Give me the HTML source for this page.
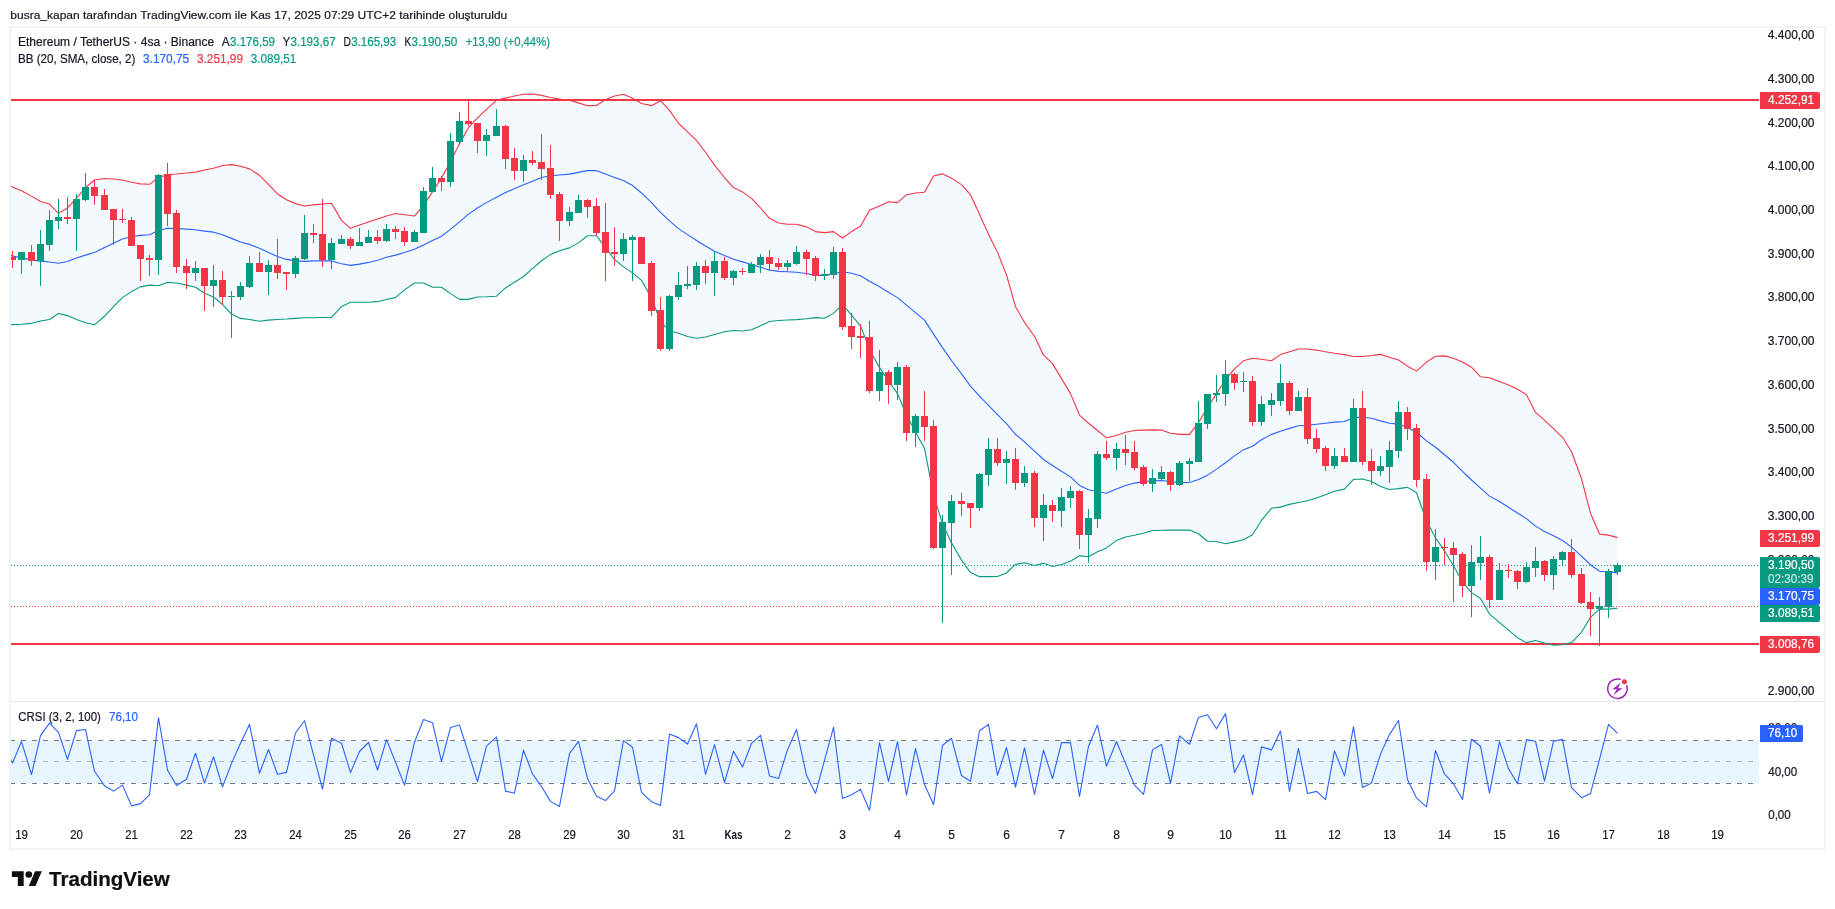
<!DOCTYPE html>
<html lang="tr"><head><meta charset="utf-8"><title>ETHUSDT 4sa - TradingView</title>
<style>html,body{margin:0;padding:0;background:#fff}svg{display:block;will-change:transform}text{font-family:"Liberation Sans",sans-serif}</style></head><body>
<svg width="1835" height="909" viewBox="0 0 1835 909">
<rect width="1835" height="909" fill="#fff"/>
<rect x="10" y="27" width="1815" height="822" fill="#fff" stroke="#f2f3f4" stroke-width="2"/>
<defs><clipPath id="cp"><rect x="11" y="28" width="1749" height="673"/></clipPath><clipPath id="cp2"><rect x="11" y="702" width="1748" height="118"/></clipPath></defs>
<g clip-path="url(#cp)">
<polygon points="10.5,186.04 12.5,186.9 21.5,190.76 31.5,196.12 40.5,201.49 49.5,204.06 58.5,213.28 67.5,207.92 76.5,198.27 85.5,187.54 94.5,180.03 104.5,178.53 113.5,178.96 122.5,180.03 131.5,182.18 140.5,183.89 149.5,184.32 158.5,177.46 167.5,174.67 176.5,174.03 186.5,172.95 195.5,172.1 204.5,169.95 213.5,168.23 222.5,165.45 231.5,164.59 240.5,166.3 249.5,168.88 259.5,175.31 268.5,184.32 277.5,193.98 286.5,199.77 295.5,203.63 304.5,205.99 313.5,204.92 322.5,204.06 331.5,203.2 341.5,220.36 350.5,228.3 359.5,225.08 368.5,222.08 377.5,219.08 386.5,216.07 395.5,213.5 404.5,214.79 414.5,216.07 423.5,205.35 432.5,191.83 441.5,177.89 450.5,161.8 459.5,143.63 468.5,127.54 477.5,117.89 486.5,109.31 496.5,100.3 505.5,98.15 514.5,96.01 523.5,94.29 532.5,94.08 541.5,95.36 550.5,97.51 559.5,99.01 569.5,100.3 578.5,102.87 587.5,105.66 596.5,105.45 605.5,99.65 614.5,96.01 623.5,94.29 632.5,98.15 641.5,103.51 651.5,105.66 660.5,100.73 669.5,110.38 678.5,123.25 687.5,131.83 696.5,140.41 705.5,152.21 714.5,165.08 724.5,177.53 733.5,187.61 742.5,191.9 751.5,198.33 760.5,207.99 769.5,218.28 778.5,223 787.5,224.29 796.5,224.29 806.5,226.87 815.5,231.59 824.5,232.66 833.5,231.59 842.5,238.02 851.5,231.59 860.5,226.21 869.5,210.33 879.5,206.04 888.5,201.75 897.5,202.61 906.5,194.67 915.5,192.95 924.5,192.31 933.5,176.01 942.5,173.86 951.5,178.15 961.5,184.59 970.5,194.67 979.5,214.19 988.5,234.14 997.5,252.38 1006.5,274.9 1015.5,306.65 1024.5,322.31 1034.5,336.26 1043.5,354.92 1052.5,363.6 1061.5,378.61 1070.5,393.63 1079.5,415.08 1088.5,423.24 1097.5,430.53 1106.5,437.82 1116.5,435.46 1125.5,432.24 1134.5,430.53 1143.5,430.1 1152.5,429.89 1161.5,430.1 1170.5,433.32 1179.5,434.39 1189.5,434.39 1198.5,422.59 1207.5,407.57 1216.5,393.63 1225.5,379.69 1234.5,368.96 1243.5,360.81 1252.5,358.23 1261.5,359.31 1271.5,360.81 1280.5,354.59 1289.5,351.8 1298.5,349.01 1307.5,349.01 1316.5,350.08 1325.5,351.8 1334.5,353.3 1344.5,354.59 1353.5,356.52 1362.5,356.52 1371.5,355.45 1380.5,354.37 1389.5,357.16 1398.5,359.95 1407.5,366.17 1416.5,371.11 1426.5,362.1 1435.5,356.3 1444.5,355.87 1453.5,358.23 1462.5,362.1 1471.5,367.24 1480.5,376.69 1489.5,377.73 1499.5,381.5 1508.5,385.05 1517.5,389.23 1526.5,394.67 1535.5,412.43 1544.5,420.17 1553.5,428.53 1562.5,437.31 1571.5,451.52 1581.5,478.7 1590.5,513.19 1599.5,534.09 1608.5,535.13 1617.5,537.64 1617.5,608.3 1608.5,609.16 1599.5,609.16 1590.5,617.31 1581.5,632.33 1571.5,642.63 1562.5,644.77 1553.5,645.2 1544.5,643.05 1535.5,640.48 1526.5,642.63 1517.5,637.69 1508.5,630.18 1499.5,622.67 1489.5,614.09 1480.5,598.43 1471.5,592.64 1462.5,581.92 1453.5,565.83 1444.5,550.81 1435.5,537.94 1426.5,520.78 1416.5,492.74 1407.5,487.38 1398.5,488.66 1389.5,489.52 1380.5,486.52 1371.5,481.59 1362.5,479.01 1353.5,479.44 1344.5,489.09 1334.5,491.24 1325.5,494.7 1316.5,497.92 1307.5,500.71 1298.5,502.43 1289.5,504.36 1280.5,507.15 1271.5,508.22 1261.5,520.45 1252.5,534.82 1243.5,539.75 1234.5,541.9 1225.5,543.83 1216.5,541.47 1207.5,541.25 1198.5,533.75 1189.5,530.1 1179.5,530.1 1170.5,530.1 1161.5,530.31 1152.5,530.53 1143.5,533.32 1134.5,535.25 1125.5,536.96 1116.5,540.4 1106.5,547.91 1097.5,551.77 1088.5,556.7 1079.5,555.84 1070.5,561.21 1061.5,564.42 1052.5,566.57 1043.5,563.35 1034.5,565.5 1024.5,562.71 1015.5,564.42 1006.5,573 997.5,576.44 988.5,576.65 979.5,576.65 970.5,572.58 961.5,560.13 951.5,542.97 942.5,523.66 933.5,494.92 924.5,448.33 915.5,432.24 906.5,415.08 897.5,393.63 888.5,380.76 879.5,367.66 869.5,349.42 860.5,325.83 851.5,315.1 842.5,304.37 833.5,313.38 824.5,318.32 815.5,317.67 806.5,318.75 796.5,319.6 787.5,320.03 778.5,320.46 769.5,321.54 760.5,325.83 751.5,329.69 742.5,330.97 733.5,330.55 724.5,331.83 714.5,334.41 705.5,336.98 696.5,338.27 687.5,336.55 678.5,333.33 669.5,330.83 660.5,321.53 651.5,297.93 641.5,280.34 632.5,272.91 623.5,266.9 614.5,259.32 605.5,247.88 596.5,235.72 587.5,235.72 578.5,242.87 569.5,247.88 559.5,250.74 550.5,254.6 541.5,260.75 532.5,268.62 523.5,276.48 514.5,282.2 505.5,287.92 496.5,296.22 486.5,296.79 477.5,296.93 468.5,299.36 459.5,299.36 450.5,293.64 441.5,287.21 432.5,287.29 423.5,283 414.5,283 404.5,289.87 395.5,297.59 386.5,299.52 377.5,301.67 368.5,302.31 359.5,302.31 350.5,302.31 341.5,306.6 331.5,317.33 322.5,317.54 313.5,317.76 304.5,317.76 295.5,318.4 286.5,319.04 277.5,319.47 268.5,320.12 259.5,321.19 249.5,319.47 240.5,318.4 231.5,314.11 222.5,304.46 213.5,296.95 204.5,293.3 195.5,287.29 186.5,285.15 176.5,283 167.5,282.36 158.5,285.79 149.5,285.15 140.5,286.87 131.5,291.59 122.5,297.59 113.5,306.6 104.5,316.26 94.5,324.84 85.5,322.69 76.5,319.47 67.5,315.61 58.5,313.47 49.5,319.47 40.5,320.98 31.5,323.33 21.5,324.19 12.5,324.62 10.5,324.84" fill="#f4f9fe"/>
<rect x="11" y="99" width="1748" height="2" fill="#f23645"/>
<rect x="11" y="643" width="1748" height="2" fill="#f23645"/>
<line x1="11" y1="565.5" x2="1758" y2="565.5" stroke="#089981" stroke-width="1" stroke-dasharray="1 2"/>
<line x1="11" y1="606.5" x2="1758" y2="606.5" stroke="#f23645" stroke-width="1" stroke-dasharray="1 2"/>
<polyline points="10.5,255.55 12.5,255.97 21.5,257.91 31.5,259.84 40.5,261.12 49.5,261.98 58.5,263.27 67.5,261.55 76.5,257.91 85.5,255.12 94.5,252.54 104.5,247.61 113.5,243.32 122.5,239.03 131.5,236.45 140.5,235.38 149.5,234.74 158.5,230.45 167.5,228.3 176.5,228.52 186.5,229.16 195.5,229.8 204.5,231.09 213.5,232.16 222.5,234.74 231.5,238.38 240.5,242.03 249.5,244.39 259.5,248.25 268.5,252.54 277.5,256.4 286.5,259.41 295.5,260.91 304.5,261.34 313.5,260.91 322.5,260.91 331.5,260.91 341.5,263.7 350.5,265.41 359.5,264.13 368.5,262.41 377.5,260.26 386.5,257.26 395.5,255.12 404.5,252.54 414.5,249.32 423.5,245.03 432.5,240.53 441.5,236.24 450.5,229.37 459.5,221.87 468.5,214.14 477.5,207.99 486.5,202.62 496.5,197.26 505.5,192.54 514.5,188.68 523.5,184.82 532.5,181.17 541.5,177.53 550.5,175.81 559.5,174.95 569.5,174.09 578.5,172.38 587.5,170.66 596.5,170.66 605.5,174.09 614.5,177.53 623.5,180.53 632.5,185.46 641.5,192.97 651.5,202.62 660.5,212.28 669.5,220.86 678.5,228.65 687.5,234.65 696.5,240.45 705.5,246.02 714.5,251.17 724.5,255.46 733.5,259.32 742.5,261.9 751.5,264.47 760.5,267.26 769.5,270.05 778.5,271.34 787.5,271.77 796.5,272.2 806.5,273.48 815.5,275.41 824.5,275.41 833.5,273.91 842.5,271.77 851.5,273.27 860.5,275.84 869.5,281.21 879.5,286.78 888.5,292.28 897.5,297.64 906.5,305.15 915.5,312.66 924.5,320.17 933.5,334.11 942.5,347.63 951.5,360.5 961.5,373.89 970.5,386.12 979.5,396.21 988.5,405.43 997.5,414.65 1006.5,423.66 1015.5,434.39 1024.5,441.9 1034.5,451.12 1043.5,459.49 1052.5,465.5 1061.5,471.29 1070.5,476.87 1079.5,485.45 1088.5,489.74 1097.5,491.45 1106.5,493.17 1116.5,489.09 1125.5,485.45 1134.5,483.09 1143.5,481.59 1152.5,480.73 1161.5,480.51 1170.5,481.59 1179.5,482.44 1189.5,482.44 1198.5,479.44 1207.5,475.15 1216.5,469.14 1225.5,462.71 1234.5,455.84 1243.5,449.84 1252.5,446.19 1261.5,439.75 1271.5,434.39 1280.5,431.17 1289.5,428.38 1298.5,425.81 1307.5,425.38 1316.5,424.31 1325.5,423.24 1334.5,422.16 1344.5,421.52 1353.5,417.66 1362.5,417.23 1371.5,418.3 1380.5,420.88 1389.5,423.24 1398.5,424.09 1407.5,427.53 1416.5,432.24 1426.5,440.83 1435.5,447.26 1444.5,454.77 1453.5,462.28 1462.5,471.44 1471.5,480.02 1480.5,488.17 1489.5,496.11 1499.5,501.47 1508.5,507.26 1517.5,513.05 1526.5,518.63 1535.5,526.14 1544.5,531.5 1553.5,535.79 1562.5,540.51 1571.5,547.16 1581.5,556.17 1590.5,564.75 1599.5,571.19 1608.5,571.62 1617.5,572.91" fill="none" stroke="#2962ff" stroke-width="1.1" stroke-linejoin="round"/>
<polyline points="10.5,186.04 12.5,186.9 21.5,190.76 31.5,196.12 40.5,201.49 49.5,204.06 58.5,213.28 67.5,207.92 76.5,198.27 85.5,187.54 94.5,180.03 104.5,178.53 113.5,178.96 122.5,180.03 131.5,182.18 140.5,183.89 149.5,184.32 158.5,177.46 167.5,174.67 176.5,174.03 186.5,172.95 195.5,172.1 204.5,169.95 213.5,168.23 222.5,165.45 231.5,164.59 240.5,166.3 249.5,168.88 259.5,175.31 268.5,184.32 277.5,193.98 286.5,199.77 295.5,203.63 304.5,205.99 313.5,204.92 322.5,204.06 331.5,203.2 341.5,220.36 350.5,228.3 359.5,225.08 368.5,222.08 377.5,219.08 386.5,216.07 395.5,213.5 404.5,214.79 414.5,216.07 423.5,205.35 432.5,191.83 441.5,177.89 450.5,161.8 459.5,143.63 468.5,127.54 477.5,117.89 486.5,109.31 496.5,100.3 505.5,98.15 514.5,96.01 523.5,94.29 532.5,94.08 541.5,95.36 550.5,97.51 559.5,99.01 569.5,100.3 578.5,102.87 587.5,105.66 596.5,105.45 605.5,99.65 614.5,96.01 623.5,94.29 632.5,98.15 641.5,103.51 651.5,105.66 660.5,100.73 669.5,110.38 678.5,123.25 687.5,131.83 696.5,140.41 705.5,152.21 714.5,165.08 724.5,177.53 733.5,187.61 742.5,191.9 751.5,198.33 760.5,207.99 769.5,218.28 778.5,223 787.5,224.29 796.5,224.29 806.5,226.87 815.5,231.59 824.5,232.66 833.5,231.59 842.5,238.02 851.5,231.59 860.5,226.21 869.5,210.33 879.5,206.04 888.5,201.75 897.5,202.61 906.5,194.67 915.5,192.95 924.5,192.31 933.5,176.01 942.5,173.86 951.5,178.15 961.5,184.59 970.5,194.67 979.5,214.19 988.5,234.14 997.5,252.38 1006.5,274.9 1015.5,306.65 1024.5,322.31 1034.5,336.26 1043.5,354.92 1052.5,363.6 1061.5,378.61 1070.5,393.63 1079.5,415.08 1088.5,423.24 1097.5,430.53 1106.5,437.82 1116.5,435.46 1125.5,432.24 1134.5,430.53 1143.5,430.1 1152.5,429.89 1161.5,430.1 1170.5,433.32 1179.5,434.39 1189.5,434.39 1198.5,422.59 1207.5,407.57 1216.5,393.63 1225.5,379.69 1234.5,368.96 1243.5,360.81 1252.5,358.23 1261.5,359.31 1271.5,360.81 1280.5,354.59 1289.5,351.8 1298.5,349.01 1307.5,349.01 1316.5,350.08 1325.5,351.8 1334.5,353.3 1344.5,354.59 1353.5,356.52 1362.5,356.52 1371.5,355.45 1380.5,354.37 1389.5,357.16 1398.5,359.95 1407.5,366.17 1416.5,371.11 1426.5,362.1 1435.5,356.3 1444.5,355.87 1453.5,358.23 1462.5,362.1 1471.5,367.24 1480.5,376.69 1489.5,377.73 1499.5,381.5 1508.5,385.05 1517.5,389.23 1526.5,394.67 1535.5,412.43 1544.5,420.17 1553.5,428.53 1562.5,437.31 1571.5,451.52 1581.5,478.7 1590.5,513.19 1599.5,534.09 1608.5,535.13 1617.5,537.64" fill="none" stroke="#f23645" stroke-width="1.1" stroke-linejoin="round"/>
<polyline points="10.5,324.84 12.5,324.62 21.5,324.19 31.5,323.33 40.5,320.98 49.5,319.47 58.5,313.47 67.5,315.61 76.5,319.47 85.5,322.69 94.5,324.84 104.5,316.26 113.5,306.6 122.5,297.59 131.5,291.59 140.5,286.87 149.5,285.15 158.5,285.79 167.5,282.36 176.5,283 186.5,285.15 195.5,287.29 204.5,293.3 213.5,296.95 222.5,304.46 231.5,314.11 240.5,318.4 249.5,319.47 259.5,321.19 268.5,320.12 277.5,319.47 286.5,319.04 295.5,318.4 304.5,317.76 313.5,317.76 322.5,317.54 331.5,317.33 341.5,306.6 350.5,302.31 359.5,302.31 368.5,302.31 377.5,301.67 386.5,299.52 395.5,297.59 404.5,289.87 414.5,283 423.5,283 432.5,287.29 441.5,287.21 450.5,293.64 459.5,299.36 468.5,299.36 477.5,296.93 486.5,296.79 496.5,296.22 505.5,287.92 514.5,282.2 523.5,276.48 532.5,268.62 541.5,260.75 550.5,254.6 559.5,250.74 569.5,247.88 578.5,242.87 587.5,235.72 596.5,235.72 605.5,247.88 614.5,259.32 623.5,266.9 632.5,272.91 641.5,280.34 651.5,297.93 660.5,321.53 669.5,330.83 678.5,333.33 687.5,336.55 696.5,338.27 705.5,336.98 714.5,334.41 724.5,331.83 733.5,330.55 742.5,330.97 751.5,329.69 760.5,325.83 769.5,321.54 778.5,320.46 787.5,320.03 796.5,319.6 806.5,318.75 815.5,317.67 824.5,318.32 833.5,313.38 842.5,304.37 851.5,315.1 860.5,325.83 869.5,349.42 879.5,367.66 888.5,380.76 897.5,393.63 906.5,415.08 915.5,432.24 924.5,448.33 933.5,494.92 942.5,523.66 951.5,542.97 961.5,560.13 970.5,572.58 979.5,576.65 988.5,576.65 997.5,576.44 1006.5,573 1015.5,564.42 1024.5,562.71 1034.5,565.5 1043.5,563.35 1052.5,566.57 1061.5,564.42 1070.5,561.21 1079.5,555.84 1088.5,556.7 1097.5,551.77 1106.5,547.91 1116.5,540.4 1125.5,536.96 1134.5,535.25 1143.5,533.32 1152.5,530.53 1161.5,530.31 1170.5,530.1 1179.5,530.1 1189.5,530.1 1198.5,533.75 1207.5,541.25 1216.5,541.47 1225.5,543.83 1234.5,541.9 1243.5,539.75 1252.5,534.82 1261.5,520.45 1271.5,508.22 1280.5,507.15 1289.5,504.36 1298.5,502.43 1307.5,500.71 1316.5,497.92 1325.5,494.7 1334.5,491.24 1344.5,489.09 1353.5,479.44 1362.5,479.01 1371.5,481.59 1380.5,486.52 1389.5,489.52 1398.5,488.66 1407.5,487.38 1416.5,492.74 1426.5,520.78 1435.5,537.94 1444.5,550.81 1453.5,565.83 1462.5,581.92 1471.5,592.64 1480.5,598.43 1489.5,614.09 1499.5,622.67 1508.5,630.18 1517.5,637.69 1526.5,642.63 1535.5,640.48 1544.5,643.05 1553.5,645.2 1562.5,644.77 1571.5,642.63 1581.5,632.33 1590.5,617.31 1599.5,609.16 1608.5,609.16 1617.5,608.3" fill="none" stroke="#089981" stroke-width="1.1" stroke-linejoin="round"/>
<g shape-rendering="crispEdges">
<rect x="12" y="251" width="1" height="17" fill="#f23645"/><rect x="9" y="257" width="7" height="3" fill="#f23645"/>
<rect x="21" y="252" width="1" height="22" fill="#089981"/><rect x="18" y="252" width="7" height="8" fill="#089981"/>
<rect x="31" y="245" width="1" height="21" fill="#f23645"/><rect x="28" y="252" width="7" height="9" fill="#f23645"/>
<rect x="40" y="230" width="1" height="56" fill="#089981"/><rect x="37" y="244" width="7" height="17" fill="#089981"/>
<rect x="49" y="210" width="1" height="41" fill="#089981"/><rect x="46" y="220" width="7" height="25" fill="#089981"/>
<rect x="58" y="199" width="1" height="30" fill="#089981"/><rect x="55" y="217" width="7" height="4" fill="#089981"/>
<rect x="67" y="197" width="1" height="27" fill="#f23645"/><rect x="64" y="217" width="7" height="2" fill="#f23645"/>
<rect x="76" y="194" width="1" height="57" fill="#089981"/><rect x="73" y="199" width="7" height="20" fill="#089981"/>
<rect x="85" y="173" width="1" height="28" fill="#089981"/><rect x="82" y="187" width="7" height="13" fill="#089981"/>
<rect x="94" y="180" width="1" height="25" fill="#f23645"/><rect x="91" y="187" width="7" height="9" fill="#f23645"/>
<rect x="104" y="189" width="1" height="21" fill="#f23645"/><rect x="101" y="195" width="7" height="15" fill="#f23645"/>
<rect x="113" y="209" width="1" height="36" fill="#f23645"/><rect x="110" y="209" width="7" height="11" fill="#f23645"/>
<rect x="122" y="209" width="1" height="14" fill="#f23645"/><rect x="119" y="219" width="7" height="1" fill="#f23645"/>
<rect x="131" y="217" width="1" height="29" fill="#f23645"/><rect x="128" y="220" width="7" height="26" fill="#f23645"/>
<rect x="140" y="245" width="1" height="36" fill="#f23645"/><rect x="137" y="245" width="7" height="14" fill="#f23645"/>
<rect x="149" y="255" width="1" height="21" fill="#f23645"/><rect x="146" y="258" width="7" height="2" fill="#f23645"/>
<rect x="158" y="174" width="1" height="101" fill="#089981"/><rect x="155" y="175" width="7" height="85" fill="#089981"/>
<rect x="167" y="163" width="1" height="63" fill="#f23645"/><rect x="164" y="174" width="7" height="40" fill="#f23645"/>
<rect x="176" y="210" width="1" height="63" fill="#f23645"/><rect x="173" y="213" width="7" height="54" fill="#f23645"/>
<rect x="186" y="259" width="1" height="30" fill="#f23645"/><rect x="183" y="266" width="7" height="7" fill="#f23645"/>
<rect x="195" y="261" width="1" height="20" fill="#089981"/><rect x="192" y="268" width="7" height="5" fill="#089981"/>
<rect x="204" y="268" width="1" height="43" fill="#f23645"/><rect x="201" y="268" width="7" height="18" fill="#f23645"/>
<rect x="213" y="265" width="1" height="42" fill="#089981"/><rect x="210" y="280" width="7" height="6" fill="#089981"/>
<rect x="222" y="271" width="1" height="34" fill="#f23645"/><rect x="219" y="280" width="7" height="17" fill="#f23645"/>
<rect x="231" y="291" width="1" height="47" fill="#089981"/><rect x="228" y="296" width="7" height="1" fill="#089981"/>
<rect x="240" y="282" width="1" height="18" fill="#089981"/><rect x="237" y="286" width="7" height="11" fill="#089981"/>
<rect x="249" y="256" width="1" height="32" fill="#089981"/><rect x="246" y="263" width="7" height="24" fill="#089981"/>
<rect x="259" y="252" width="1" height="20" fill="#f23645"/><rect x="256" y="263" width="7" height="9" fill="#f23645"/>
<rect x="268" y="260" width="1" height="35" fill="#089981"/><rect x="265" y="265" width="7" height="7" fill="#089981"/>
<rect x="277" y="239" width="1" height="40" fill="#f23645"/><rect x="274" y="265" width="7" height="8" fill="#f23645"/>
<rect x="286" y="272" width="1" height="18" fill="#f23645"/><rect x="283" y="272" width="7" height="2" fill="#f23645"/>
<rect x="295" y="256" width="1" height="22" fill="#089981"/><rect x="292" y="258" width="7" height="16" fill="#089981"/>
<rect x="304" y="215" width="1" height="45" fill="#089981"/><rect x="301" y="233" width="7" height="26" fill="#089981"/>
<rect x="313" y="224" width="1" height="19" fill="#f23645"/><rect x="310" y="233" width="7" height="2" fill="#f23645"/>
<rect x="322" y="199" width="1" height="68" fill="#f23645"/><rect x="319" y="234" width="7" height="26" fill="#f23645"/>
<rect x="331" y="238" width="1" height="31" fill="#089981"/><rect x="328" y="243" width="7" height="17" fill="#089981"/>
<rect x="341" y="235" width="1" height="9" fill="#089981"/><rect x="338" y="239" width="7" height="5" fill="#089981"/>
<rect x="350" y="237" width="1" height="12" fill="#f23645"/><rect x="347" y="239" width="7" height="7" fill="#f23645"/>
<rect x="359" y="228" width="1" height="18" fill="#089981"/><rect x="356" y="242" width="7" height="4" fill="#089981"/>
<rect x="368" y="230" width="1" height="13" fill="#089981"/><rect x="365" y="237" width="7" height="6" fill="#089981"/>
<rect x="377" y="230" width="1" height="14" fill="#f23645"/><rect x="374" y="237" width="7" height="4" fill="#f23645"/>
<rect x="386" y="224" width="1" height="18" fill="#089981"/><rect x="383" y="229" width="7" height="12" fill="#089981"/>
<rect x="395" y="226" width="1" height="13" fill="#f23645"/><rect x="392" y="229" width="7" height="3" fill="#f23645"/>
<rect x="404" y="227" width="1" height="19" fill="#f23645"/><rect x="401" y="231" width="7" height="11" fill="#f23645"/>
<rect x="414" y="230" width="1" height="12" fill="#089981"/><rect x="411" y="232" width="7" height="10" fill="#089981"/>
<rect x="423" y="187" width="1" height="46" fill="#089981"/><rect x="420" y="191" width="7" height="42" fill="#089981"/>
<rect x="432" y="167" width="1" height="25" fill="#089981"/><rect x="429" y="178" width="7" height="14" fill="#089981"/>
<rect x="441" y="176" width="1" height="15" fill="#f23645"/><rect x="438" y="178" width="7" height="4" fill="#f23645"/>
<rect x="450" y="133" width="1" height="54" fill="#089981"/><rect x="447" y="141" width="7" height="41" fill="#089981"/>
<rect x="459" y="112" width="1" height="33" fill="#089981"/><rect x="456" y="121" width="7" height="21" fill="#089981"/>
<rect x="468" y="100" width="1" height="26" fill="#f23645"/><rect x="465" y="121" width="7" height="3" fill="#f23645"/>
<rect x="477" y="123" width="1" height="30" fill="#f23645"/><rect x="474" y="123" width="7" height="18" fill="#f23645"/>
<rect x="486" y="129" width="1" height="27" fill="#089981"/><rect x="483" y="135" width="7" height="6" fill="#089981"/>
<rect x="496" y="109" width="1" height="27" fill="#089981"/><rect x="493" y="126" width="7" height="10" fill="#089981"/>
<rect x="505" y="125" width="1" height="44" fill="#f23645"/><rect x="502" y="126" width="7" height="33" fill="#f23645"/>
<rect x="514" y="148" width="1" height="32" fill="#f23645"/><rect x="511" y="158" width="7" height="13" fill="#f23645"/>
<rect x="523" y="155" width="1" height="27" fill="#089981"/><rect x="520" y="160" width="7" height="11" fill="#089981"/>
<rect x="532" y="151" width="1" height="14" fill="#f23645"/><rect x="529" y="160" width="7" height="3" fill="#f23645"/>
<rect x="541" y="134" width="1" height="46" fill="#f23645"/><rect x="538" y="162" width="7" height="7" fill="#f23645"/>
<rect x="550" y="145" width="1" height="54" fill="#f23645"/><rect x="547" y="168" width="7" height="27" fill="#f23645"/>
<rect x="559" y="192" width="1" height="49" fill="#f23645"/><rect x="556" y="194" width="7" height="27" fill="#f23645"/>
<rect x="569" y="207" width="1" height="19" fill="#089981"/><rect x="566" y="212" width="7" height="9" fill="#089981"/>
<rect x="578" y="195" width="1" height="18" fill="#089981"/><rect x="575" y="200" width="7" height="13" fill="#089981"/>
<rect x="587" y="199" width="1" height="19" fill="#f23645"/><rect x="584" y="200" width="7" height="7" fill="#f23645"/>
<rect x="596" y="198" width="1" height="38" fill="#f23645"/><rect x="593" y="206" width="7" height="27" fill="#f23645"/>
<rect x="605" y="203" width="1" height="78" fill="#f23645"/><rect x="602" y="232" width="7" height="21" fill="#f23645"/>
<rect x="614" y="227" width="1" height="39" fill="#f23645"/><rect x="611" y="252" width="7" height="2" fill="#f23645"/>
<rect x="623" y="233" width="1" height="28" fill="#089981"/><rect x="620" y="239" width="7" height="15" fill="#089981"/>
<rect x="632" y="235" width="1" height="46" fill="#089981"/><rect x="629" y="237" width="7" height="3" fill="#089981"/>
<rect x="641" y="237" width="1" height="27" fill="#f23645"/><rect x="638" y="237" width="7" height="27" fill="#f23645"/>
<rect x="651" y="261" width="1" height="55" fill="#f23645"/><rect x="648" y="263" width="7" height="48" fill="#f23645"/>
<rect x="660" y="297" width="1" height="54" fill="#f23645"/><rect x="657" y="310" width="7" height="39" fill="#f23645"/>
<rect x="669" y="295" width="1" height="56" fill="#089981"/><rect x="666" y="296" width="7" height="53" fill="#089981"/>
<rect x="678" y="272" width="1" height="28" fill="#089981"/><rect x="675" y="285" width="7" height="12" fill="#089981"/>
<rect x="687" y="266" width="1" height="23" fill="#089981"/><rect x="684" y="284" width="7" height="2" fill="#089981"/>
<rect x="696" y="262" width="1" height="28" fill="#089981"/><rect x="693" y="266" width="7" height="19" fill="#089981"/>
<rect x="705" y="260" width="1" height="24" fill="#f23645"/><rect x="702" y="266" width="7" height="7" fill="#f23645"/>
<rect x="714" y="252" width="1" height="44" fill="#089981"/><rect x="711" y="261" width="7" height="12" fill="#089981"/>
<rect x="724" y="257" width="1" height="23" fill="#f23645"/><rect x="721" y="261" width="7" height="17" fill="#f23645"/>
<rect x="733" y="270" width="1" height="15" fill="#089981"/><rect x="730" y="271" width="7" height="7" fill="#089981"/>
<rect x="742" y="268" width="1" height="7" fill="#f23645"/><rect x="739" y="271" width="7" height="1" fill="#f23645"/>
<rect x="751" y="262" width="1" height="11" fill="#089981"/><rect x="748" y="264" width="7" height="9" fill="#089981"/>
<rect x="760" y="254" width="1" height="19" fill="#089981"/><rect x="757" y="257" width="7" height="8" fill="#089981"/>
<rect x="769" y="250" width="1" height="21" fill="#f23645"/><rect x="766" y="257" width="7" height="7" fill="#f23645"/>
<rect x="778" y="258" width="1" height="12" fill="#f23645"/><rect x="775" y="263" width="7" height="4" fill="#f23645"/>
<rect x="787" y="260" width="1" height="11" fill="#089981"/><rect x="784" y="263" width="7" height="4" fill="#089981"/>
<rect x="796" y="246" width="1" height="19" fill="#089981"/><rect x="793" y="252" width="7" height="12" fill="#089981"/>
<rect x="806" y="250" width="1" height="25" fill="#f23645"/><rect x="803" y="252" width="7" height="7" fill="#f23645"/>
<rect x="815" y="256" width="1" height="25" fill="#f23645"/><rect x="812" y="258" width="7" height="18" fill="#f23645"/>
<rect x="824" y="269" width="1" height="11" fill="#089981"/><rect x="821" y="274" width="7" height="2" fill="#089981"/>
<rect x="833" y="247" width="1" height="32" fill="#089981"/><rect x="830" y="252" width="7" height="23" fill="#089981"/>
<rect x="842" y="248" width="1" height="82" fill="#f23645"/><rect x="839" y="252" width="7" height="75" fill="#f23645"/>
<rect x="851" y="313" width="1" height="36" fill="#f23645"/><rect x="848" y="326" width="7" height="11" fill="#f23645"/>
<rect x="860" y="324" width="1" height="34" fill="#f23645"/><rect x="857" y="336" width="7" height="2" fill="#f23645"/>
<rect x="869" y="321" width="1" height="72" fill="#f23645"/><rect x="866" y="337" width="7" height="54" fill="#f23645"/>
<rect x="879" y="350" width="1" height="51" fill="#089981"/><rect x="876" y="372" width="7" height="19" fill="#089981"/>
<rect x="888" y="370" width="1" height="34" fill="#f23645"/><rect x="885" y="372" width="7" height="13" fill="#f23645"/>
<rect x="897" y="362" width="1" height="38" fill="#089981"/><rect x="894" y="367" width="7" height="18" fill="#089981"/>
<rect x="906" y="365" width="1" height="76" fill="#f23645"/><rect x="903" y="367" width="7" height="66" fill="#f23645"/>
<rect x="915" y="414" width="1" height="33" fill="#089981"/><rect x="912" y="416" width="7" height="17" fill="#089981"/>
<rect x="924" y="391" width="1" height="50" fill="#f23645"/><rect x="921" y="416" width="7" height="11" fill="#f23645"/>
<rect x="933" y="420" width="1" height="129" fill="#f23645"/><rect x="930" y="426" width="7" height="122" fill="#f23645"/>
<rect x="942" y="515" width="1" height="108" fill="#089981"/><rect x="939" y="522" width="7" height="26" fill="#089981"/>
<rect x="951" y="495" width="1" height="80" fill="#089981"/><rect x="948" y="501" width="7" height="22" fill="#089981"/>
<rect x="961" y="493" width="1" height="23" fill="#f23645"/><rect x="958" y="501" width="7" height="3" fill="#f23645"/>
<rect x="970" y="503" width="1" height="25" fill="#f23645"/><rect x="967" y="503" width="7" height="5" fill="#f23645"/>
<rect x="979" y="473" width="1" height="38" fill="#089981"/><rect x="976" y="474" width="7" height="34" fill="#089981"/>
<rect x="988" y="438" width="1" height="48" fill="#089981"/><rect x="985" y="449" width="7" height="26" fill="#089981"/>
<rect x="997" y="438" width="1" height="28" fill="#f23645"/><rect x="994" y="449" width="7" height="14" fill="#f23645"/>
<rect x="1006" y="451" width="1" height="33" fill="#089981"/><rect x="1003" y="459" width="7" height="4" fill="#089981"/>
<rect x="1015" y="448" width="1" height="42" fill="#f23645"/><rect x="1012" y="459" width="7" height="24" fill="#f23645"/>
<rect x="1024" y="466" width="1" height="21" fill="#089981"/><rect x="1021" y="473" width="7" height="10" fill="#089981"/>
<rect x="1034" y="471" width="1" height="56" fill="#f23645"/><rect x="1031" y="473" width="7" height="45" fill="#f23645"/>
<rect x="1043" y="494" width="1" height="47" fill="#089981"/><rect x="1040" y="505" width="7" height="13" fill="#089981"/>
<rect x="1052" y="500" width="1" height="22" fill="#f23645"/><rect x="1049" y="505" width="7" height="6" fill="#f23645"/>
<rect x="1061" y="488" width="1" height="39" fill="#089981"/><rect x="1058" y="497" width="7" height="14" fill="#089981"/>
<rect x="1070" y="486" width="1" height="22" fill="#089981"/><rect x="1067" y="491" width="7" height="7" fill="#089981"/>
<rect x="1079" y="490" width="1" height="59" fill="#f23645"/><rect x="1076" y="491" width="7" height="44" fill="#f23645"/>
<rect x="1088" y="509" width="1" height="54" fill="#089981"/><rect x="1085" y="518" width="7" height="17" fill="#089981"/>
<rect x="1097" y="451" width="1" height="77" fill="#089981"/><rect x="1094" y="454" width="7" height="65" fill="#089981"/>
<rect x="1106" y="441" width="1" height="19" fill="#f23645"/><rect x="1103" y="454" width="7" height="4" fill="#f23645"/>
<rect x="1116" y="443" width="1" height="27" fill="#089981"/><rect x="1113" y="449" width="7" height="9" fill="#089981"/>
<rect x="1125" y="435" width="1" height="30" fill="#f23645"/><rect x="1122" y="449" width="7" height="4" fill="#f23645"/>
<rect x="1134" y="441" width="1" height="29" fill="#f23645"/><rect x="1131" y="452" width="7" height="16" fill="#f23645"/>
<rect x="1143" y="465" width="1" height="21" fill="#f23645"/><rect x="1140" y="467" width="7" height="17" fill="#f23645"/>
<rect x="1152" y="469" width="1" height="23" fill="#089981"/><rect x="1149" y="478" width="7" height="6" fill="#089981"/>
<rect x="1161" y="466" width="1" height="15" fill="#089981"/><rect x="1158" y="472" width="7" height="7" fill="#089981"/>
<rect x="1170" y="471" width="1" height="20" fill="#f23645"/><rect x="1167" y="472" width="7" height="13" fill="#f23645"/>
<rect x="1179" y="461" width="1" height="25" fill="#089981"/><rect x="1176" y="463" width="7" height="22" fill="#089981"/>
<rect x="1189" y="458" width="1" height="23" fill="#089981"/><rect x="1186" y="461" width="7" height="3" fill="#089981"/>
<rect x="1198" y="401" width="1" height="61" fill="#089981"/><rect x="1195" y="423" width="7" height="39" fill="#089981"/>
<rect x="1207" y="394" width="1" height="35" fill="#089981"/><rect x="1204" y="394" width="7" height="30" fill="#089981"/>
<rect x="1216" y="375" width="1" height="27" fill="#089981"/><rect x="1213" y="393" width="7" height="2" fill="#089981"/>
<rect x="1225" y="360" width="1" height="46" fill="#089981"/><rect x="1222" y="374" width="7" height="20" fill="#089981"/>
<rect x="1234" y="373" width="1" height="17" fill="#f23645"/><rect x="1231" y="374" width="7" height="9" fill="#f23645"/>
<rect x="1243" y="372" width="1" height="20" fill="#089981"/><rect x="1240" y="381" width="7" height="1" fill="#089981"/>
<rect x="1252" y="376" width="1" height="50" fill="#f23645"/><rect x="1249" y="381" width="7" height="41" fill="#f23645"/>
<rect x="1261" y="396" width="1" height="30" fill="#089981"/><rect x="1258" y="404" width="7" height="18" fill="#089981"/>
<rect x="1271" y="393" width="1" height="23" fill="#089981"/><rect x="1268" y="400" width="7" height="5" fill="#089981"/>
<rect x="1280" y="364" width="1" height="42" fill="#089981"/><rect x="1277" y="383" width="7" height="18" fill="#089981"/>
<rect x="1289" y="381" width="1" height="34" fill="#f23645"/><rect x="1286" y="383" width="7" height="28" fill="#f23645"/>
<rect x="1298" y="391" width="1" height="20" fill="#089981"/><rect x="1295" y="397" width="7" height="14" fill="#089981"/>
<rect x="1307" y="388" width="1" height="56" fill="#f23645"/><rect x="1304" y="397" width="7" height="42" fill="#f23645"/>
<rect x="1316" y="429" width="1" height="24" fill="#f23645"/><rect x="1313" y="438" width="7" height="11" fill="#f23645"/>
<rect x="1325" y="446" width="1" height="25" fill="#f23645"/><rect x="1322" y="448" width="7" height="18" fill="#f23645"/>
<rect x="1334" y="448" width="1" height="21" fill="#089981"/><rect x="1331" y="456" width="7" height="10" fill="#089981"/>
<rect x="1344" y="448" width="1" height="14" fill="#f23645"/><rect x="1341" y="456" width="7" height="6" fill="#f23645"/>
<rect x="1353" y="399" width="1" height="63" fill="#089981"/><rect x="1350" y="408" width="7" height="54" fill="#089981"/>
<rect x="1362" y="391" width="1" height="74" fill="#f23645"/><rect x="1359" y="408" width="7" height="54" fill="#f23645"/>
<rect x="1371" y="449" width="1" height="36" fill="#f23645"/><rect x="1368" y="461" width="7" height="10" fill="#f23645"/>
<rect x="1380" y="456" width="1" height="20" fill="#089981"/><rect x="1377" y="466" width="7" height="5" fill="#089981"/>
<rect x="1389" y="441" width="1" height="42" fill="#089981"/><rect x="1386" y="450" width="7" height="17" fill="#089981"/>
<rect x="1398" y="401" width="1" height="57" fill="#089981"/><rect x="1395" y="412" width="7" height="39" fill="#089981"/>
<rect x="1407" y="407" width="1" height="33" fill="#f23645"/><rect x="1404" y="412" width="7" height="17" fill="#f23645"/>
<rect x="1416" y="424" width="1" height="63" fill="#f23645"/><rect x="1413" y="428" width="7" height="52" fill="#f23645"/>
<rect x="1426" y="474" width="1" height="97" fill="#f23645"/><rect x="1423" y="479" width="7" height="83" fill="#f23645"/>
<rect x="1435" y="529" width="1" height="51" fill="#089981"/><rect x="1432" y="547" width="7" height="15" fill="#089981"/>
<rect x="1444" y="538" width="1" height="27" fill="#f23645"/><rect x="1441" y="547" width="7" height="1" fill="#f23645"/>
<rect x="1453" y="542" width="1" height="60" fill="#f23645"/><rect x="1450" y="548" width="7" height="7" fill="#f23645"/>
<rect x="1462" y="552" width="1" height="45" fill="#f23645"/><rect x="1459" y="554" width="7" height="32" fill="#f23645"/>
<rect x="1471" y="545" width="1" height="72" fill="#089981"/><rect x="1468" y="562" width="7" height="24" fill="#089981"/>
<rect x="1480" y="536" width="1" height="44" fill="#089981"/><rect x="1477" y="557" width="7" height="6" fill="#089981"/>
<rect x="1489" y="555" width="1" height="53" fill="#f23645"/><rect x="1486" y="557" width="7" height="43" fill="#f23645"/>
<rect x="1499" y="563" width="1" height="37" fill="#089981"/><rect x="1496" y="570" width="7" height="30" fill="#089981"/>
<rect x="1508" y="564" width="1" height="14" fill="#f23645"/><rect x="1505" y="570" width="7" height="1" fill="#f23645"/>
<rect x="1517" y="570" width="1" height="19" fill="#f23645"/><rect x="1514" y="571" width="7" height="11" fill="#f23645"/>
<rect x="1526" y="562" width="1" height="21" fill="#089981"/><rect x="1523" y="567" width="7" height="15" fill="#089981"/>
<rect x="1535" y="547" width="1" height="30" fill="#089981"/><rect x="1532" y="561" width="7" height="7" fill="#089981"/>
<rect x="1544" y="560" width="1" height="21" fill="#f23645"/><rect x="1541" y="561" width="7" height="14" fill="#f23645"/>
<rect x="1553" y="556" width="1" height="34" fill="#089981"/><rect x="1550" y="559" width="7" height="16" fill="#089981"/>
<rect x="1562" y="551" width="1" height="14" fill="#089981"/><rect x="1559" y="552" width="7" height="8" fill="#089981"/>
<rect x="1571" y="539" width="1" height="39" fill="#f23645"/><rect x="1568" y="552" width="7" height="23" fill="#f23645"/>
<rect x="1581" y="568" width="1" height="36" fill="#f23645"/><rect x="1578" y="574" width="7" height="29" fill="#f23645"/>
<rect x="1590" y="592" width="1" height="44" fill="#f23645"/><rect x="1587" y="602" width="7" height="7" fill="#f23645"/>
<rect x="1599" y="597" width="1" height="49" fill="#089981"/><rect x="1596" y="606" width="7" height="3" fill="#089981"/>
<rect x="1608" y="569" width="1" height="49" fill="#089981"/><rect x="1605" y="571" width="7" height="36" fill="#089981"/>
<rect x="1617" y="563" width="1" height="12" fill="#089981"/><rect x="1614" y="565" width="7" height="7" fill="#089981"/>
</g>
</g>
<g transform="translate(1617.5 688.7)"><path d="M2.6 -9.4 A9.75 9.75 0 1 0 9.3 -2.9" fill="none" stroke="#9c27b0" stroke-width="1.5" stroke-linecap="round"/><path d="M2.2 -5.1 L-4.3 0.4 L-0.2 0.4 L-3.2 5.3 L4.2 -0.2 L0.2 -0.2 Z" fill="#9c27b0" stroke="#9c27b0" stroke-width="0.6" stroke-linejoin="round"/><circle cx="6.9" cy="-6.9" r="2.5" fill="#f23645"/></g>
<rect x="11" y="701" width="1813" height="1" fill="#e0e3eb"/>
<g clip-path="url(#cp2)">
<rect x="11" y="740.5" width="1749" height="43" fill="#e9f5fe"/>
<line x1="10" y1="740.5" x2="1760" y2="740.5" stroke="#787b86" stroke-width="1" stroke-dasharray="5 6"/>
<line x1="10" y1="761.5" x2="1760" y2="761.5" stroke="#787b86" stroke-opacity="0.5" stroke-width="1" stroke-dasharray="5 6"/>
<line x1="10" y1="783.5" x2="1760" y2="783.5" stroke="#787b86" stroke-width="1" stroke-dasharray="5 6"/>
<polyline points="10.5,759.41 12.5,763.1 21.5,741.58 31.5,774.59 40.5,735.64 49.5,723.1 58.5,732.34 67.5,759.41 76.5,730.63 85.5,729.44 94.5,771.29 104.5,785.81 113.5,791.09 122.5,785.15 131.5,805.87 140.5,803.63 149.5,794.79 158.5,717.82 167.5,769.97 176.5,785.54 186.5,779.21 195.5,753.2 204.5,783.17 213.5,756.77 222.5,787.13 231.5,763.37 240.5,743.3 249.5,724.42 259.5,773.27 268.5,749.5 277.5,774.19 286.5,772.34 295.5,733 304.5,720.73 313.5,754.92 322.5,789.11 331.5,738.28 341.5,743.17 350.5,772.61 359.5,751.49 368.5,742.51 377.5,769.97 386.5,739.6 395.5,762.31 404.5,785.15 414.5,742.24 423.5,719.54 432.5,722.71 441.5,761.39 450.5,727.46 459.5,725.08 468.5,753.33 477.5,781.58 486.5,746.2 496.5,736.96 505.5,791.09 514.5,793.2 523.5,750.17 532.5,773.93 541.5,786.47 550.5,801.39 559.5,806.4 569.5,753.47 578.5,741.32 587.5,778.55 596.5,796.37 605.5,800.59 614.5,790.83 623.5,740.66 632.5,747.26 641.5,792.41 651.5,801.65 660.5,805.61 669.5,734.06 678.5,737.62 687.5,743.96 696.5,723.76 705.5,774.46 714.5,744.62 724.5,782.51 733.5,751.22 742.5,767.06 751.5,743.3 760.5,735.38 769.5,775.91 778.5,778.55 787.5,749.9 796.5,729.44 806.5,775.25 815.5,793.47 824.5,760.33 833.5,727.33 842.5,798.48 851.5,794.79 860.5,789.37 869.5,810.23 879.5,742.51 888.5,781.45 897.5,741.58 906.5,795.05 915.5,748.58 924.5,784.49 933.5,804.55 942.5,745.41 951.5,738.28 961.5,775.51 970.5,781.19 979.5,730.76 988.5,724.42 997.5,775.25 1006.5,747.52 1015.5,787.13 1024.5,747.79 1034.5,794.39 1043.5,750.17 1052.5,778.55 1061.5,742.64 1070.5,742.51 1079.5,796.37 1088.5,746.2 1097.5,725.08 1106.5,766.27 1116.5,741.58 1125.5,763.37 1134.5,785.15 1143.5,794.39 1152.5,749.9 1161.5,744.49 1170.5,783.3 1179.5,735.91 1189.5,744.22 1198.5,717.43 1207.5,714.79 1216.5,728.78 1225.5,713.6 1234.5,772.61 1243.5,755.05 1252.5,794.65 1261.5,746.86 1271.5,749.9 1280.5,731.02 1289.5,791.35 1298.5,748.45 1307.5,793.47 1316.5,791.35 1325.5,799.67 1334.5,750.83 1344.5,775.91 1353.5,726.67 1362.5,787.52 1371.5,782.9 1380.5,754.13 1389.5,734.59 1398.5,720.46 1407.5,779.47 1416.5,797.95 1426.5,806.93 1435.5,750.56 1444.5,773.93 1453.5,783.83 1462.5,799.41 1471.5,739.21 1480.5,746.2 1489.5,793.07 1499.5,741.58 1508.5,768.65 1517.5,783.83 1526.5,739.6 1535.5,741.19 1544.5,781.19 1553.5,741.19 1562.5,739.34 1571.5,787.52 1581.5,797.69 1590.5,793.47 1599.5,759.41 1608.5,724.42 1617.5,733.27" fill="none" stroke="#2962ff" stroke-width="1.1" stroke-linejoin="round"/>
</g>
<text x="10.3" y="19" font-size="11.5" fill="#131722" stroke="#131722" stroke-width="0.2" textLength="497" lengthAdjust="spacingAndGlyphs">busra_kapan tarafından TradingView.com ile Kas 17, 2025 07:29 UTC+2 tarihinde oluşturuldu</text>
<text x="18" y="46" font-size="12" fill="#131722" stroke="#131722" stroke-width="0.2" textLength="196.2" lengthAdjust="spacingAndGlyphs">Ethereum / TetherUS · 4sa · Binance</text>
<text x="221.8" y="46" font-size="12" fill="#131722" stroke="#131722" stroke-width="0.2" textLength="7.9" lengthAdjust="spacingAndGlyphs">A</text>
<text x="230" y="46" font-size="12" fill="#089981" stroke="#089981" stroke-width="0.2" textLength="45" lengthAdjust="spacingAndGlyphs">3.176,59</text>
<text x="282.8" y="46" font-size="12" fill="#131722" stroke="#131722" stroke-width="0.2" textLength="7.4" lengthAdjust="spacingAndGlyphs">Y</text>
<text x="290.5" y="46" font-size="12" fill="#089981" stroke="#089981" stroke-width="0.2" textLength="45.1" lengthAdjust="spacingAndGlyphs">3.193,67</text>
<text x="343.5" y="46" font-size="12" fill="#131722" stroke="#131722" stroke-width="0.2" textLength="7.4" lengthAdjust="spacingAndGlyphs">D</text>
<text x="351.2" y="46" font-size="12" fill="#089981" stroke="#089981" stroke-width="0.2" textLength="44.9" lengthAdjust="spacingAndGlyphs">3.165,93</text>
<text x="404.6" y="46" font-size="12" fill="#131722" stroke="#131722" stroke-width="0.2" textLength="6.7" lengthAdjust="spacingAndGlyphs">K</text>
<text x="411.6" y="46" font-size="12" fill="#089981" stroke="#089981" stroke-width="0.2" textLength="45.8" lengthAdjust="spacingAndGlyphs">3.190,50</text>
<text x="465.7" y="46" font-size="12" fill="#089981" stroke="#089981" stroke-width="0.2" textLength="84.3" lengthAdjust="spacingAndGlyphs">+13,90 (+0,44%)</text>
<text x="18" y="62.6" font-size="12" fill="#131722" stroke="#131722" stroke-width="0.2" textLength="117.4" lengthAdjust="spacingAndGlyphs">BB (20, SMA, close, 2)</text>
<text x="143" y="62.6" font-size="12" fill="#2962ff" stroke="#2962ff" stroke-width="0.2" textLength="46.1" lengthAdjust="spacingAndGlyphs">3.170,75</text>
<text x="197" y="62.6" font-size="12" fill="#f23645" stroke="#f23645" stroke-width="0.2" textLength="46" lengthAdjust="spacingAndGlyphs">3.251,99</text>
<text x="250.7" y="62.6" font-size="12" fill="#089981" stroke="#089981" stroke-width="0.2" textLength="45.6" lengthAdjust="spacingAndGlyphs">3.089,51</text>
<text x="18.3" y="720.9" font-size="12" fill="#131722" stroke="#131722" stroke-width="0.2" textLength="82.5" lengthAdjust="spacingAndGlyphs">CRSI (3, 2, 100)</text>
<text x="109" y="720.9" font-size="12" fill="#2962ff" stroke="#2962ff" stroke-width="0.2" textLength="29" lengthAdjust="spacingAndGlyphs">76,10</text>
<text x="1767.8" y="39" font-size="12" fill="#131722" stroke="#131722" stroke-width="0.2" textLength="46.7" lengthAdjust="spacingAndGlyphs">4.400,00</text>
<text x="1767.8" y="83" font-size="12" fill="#131722" stroke="#131722" stroke-width="0.2" textLength="46.7" lengthAdjust="spacingAndGlyphs">4.300,00</text>
<text x="1767.8" y="127" font-size="12" fill="#131722" stroke="#131722" stroke-width="0.2" textLength="46.7" lengthAdjust="spacingAndGlyphs">4.200,00</text>
<text x="1767.8" y="170" font-size="12" fill="#131722" stroke="#131722" stroke-width="0.2" textLength="46.7" lengthAdjust="spacingAndGlyphs">4.100,00</text>
<text x="1767.8" y="214" font-size="12" fill="#131722" stroke="#131722" stroke-width="0.2" textLength="46.7" lengthAdjust="spacingAndGlyphs">4.000,00</text>
<text x="1767.8" y="258" font-size="12" fill="#131722" stroke="#131722" stroke-width="0.2" textLength="46.7" lengthAdjust="spacingAndGlyphs">3.900,00</text>
<text x="1767.8" y="301" font-size="12" fill="#131722" stroke="#131722" stroke-width="0.2" textLength="46.7" lengthAdjust="spacingAndGlyphs">3.800,00</text>
<text x="1767.8" y="345" font-size="12" fill="#131722" stroke="#131722" stroke-width="0.2" textLength="46.7" lengthAdjust="spacingAndGlyphs">3.700,00</text>
<text x="1767.8" y="389" font-size="12" fill="#131722" stroke="#131722" stroke-width="0.2" textLength="46.7" lengthAdjust="spacingAndGlyphs">3.600,00</text>
<text x="1767.8" y="433" font-size="12" fill="#131722" stroke="#131722" stroke-width="0.2" textLength="46.7" lengthAdjust="spacingAndGlyphs">3.500,00</text>
<text x="1767.8" y="476" font-size="12" fill="#131722" stroke="#131722" stroke-width="0.2" textLength="46.7" lengthAdjust="spacingAndGlyphs">3.400,00</text>
<text x="1767.8" y="520" font-size="12" fill="#131722" stroke="#131722" stroke-width="0.2" textLength="46.7" lengthAdjust="spacingAndGlyphs">3.300,00</text>
<text x="1767.8" y="564" font-size="12" fill="#131722" stroke="#131722" stroke-width="0.2" textLength="46.7" lengthAdjust="spacingAndGlyphs">3.200,00</text>
<text x="1767.8" y="695" font-size="12" fill="#131722" stroke="#131722" stroke-width="0.2" textLength="46.7" lengthAdjust="spacingAndGlyphs">2.900,00</text>
<text x="1768.2" y="732.4" font-size="12" fill="#131722" stroke="#131722" stroke-width="0.2" textLength="29" lengthAdjust="spacingAndGlyphs">80,00</text>
<text x="1768.2" y="776.35" font-size="12" fill="#131722" stroke="#131722" stroke-width="0.2" textLength="29" lengthAdjust="spacingAndGlyphs">40,00</text>
<text x="1768.2" y="818.95" font-size="12" fill="#131722" stroke="#131722" stroke-width="0.2" textLength="22.6" lengthAdjust="spacingAndGlyphs">0,00</text>
<path d="M1760 92H1818a2 2 0 0 1 2 2V107a2 2 0 0 1 -2 2H1760z" fill="#f23645"/>
<text x="1768.1" y="104" font-size="12" fill="#fff" stroke="#fff" stroke-width="0.2" textLength="46" lengthAdjust="spacingAndGlyphs">4.252,91</text>
<path d="M1760 530H1818a2 2 0 0 1 2 2V545a2 2 0 0 1 -2 2H1760z" fill="#f23645"/>
<text x="1768.1" y="542" font-size="12" fill="#fff" stroke="#fff" stroke-width="0.2" textLength="46" lengthAdjust="spacingAndGlyphs">3.251,99</text>
<path d="M1760 557H1818a2 2 0 0 1 2 2V586a2 2 0 0 1 -2 2H1760z" fill="#089981"/>
<text x="1768.1" y="569" font-size="12" fill="#fff" stroke="#fff" stroke-width="0.2" textLength="46" lengthAdjust="spacingAndGlyphs">3.190,50</text>
<text x="1768.1" y="583" font-size="12" fill="rgba(255,255,255,0.72)" stroke="rgba(255,255,255,0.72)" stroke-width="0.2" textLength="45.5" lengthAdjust="spacingAndGlyphs">02:30:39</text>
<path d="M1760 588H1818a2 2 0 0 1 2 2V603a2 2 0 0 1 -2 2H1760z" fill="#2962ff"/>
<text x="1768.1" y="600" font-size="12" fill="#fff" stroke="#fff" stroke-width="0.2" textLength="46" lengthAdjust="spacingAndGlyphs">3.170,75</text>
<path d="M1760 605H1818a2 2 0 0 1 2 2V620a2 2 0 0 1 -2 2H1760z" fill="#089981"/>
<text x="1768.1" y="617" font-size="12" fill="#fff" stroke="#fff" stroke-width="0.2" textLength="46" lengthAdjust="spacingAndGlyphs">3.089,51</text>
<path d="M1760 636H1818a2 2 0 0 1 2 2V651a2 2 0 0 1 -2 2H1760z" fill="#f23645"/>
<text x="1768.1" y="648" font-size="12" fill="#fff" stroke="#fff" stroke-width="0.2" textLength="46" lengthAdjust="spacingAndGlyphs">3.008,76</text>
<path d="M1760 725H1801a2 2 0 0 1 2 2V740a2 2 0 0 1 -2 2H1760z" fill="#2962ff"/>
<text x="1768.1" y="737" font-size="12" fill="#fff" stroke="#fff" stroke-width="0.2" textLength="29" lengthAdjust="spacingAndGlyphs">76,10</text>
<text x="21.5" y="838.8" font-size="12" fill="#131722" stroke="#131722" stroke-width="0.2" text-anchor="middle" textLength="12.6" lengthAdjust="spacingAndGlyphs">19</text>
<text x="76.5" y="838.8" font-size="12" fill="#131722" stroke="#131722" stroke-width="0.2" text-anchor="middle" textLength="12.6" lengthAdjust="spacingAndGlyphs">20</text>
<text x="131.5" y="838.8" font-size="12" fill="#131722" stroke="#131722" stroke-width="0.2" text-anchor="middle" textLength="12.6" lengthAdjust="spacingAndGlyphs">21</text>
<text x="186.5" y="838.8" font-size="12" fill="#131722" stroke="#131722" stroke-width="0.2" text-anchor="middle" textLength="12.6" lengthAdjust="spacingAndGlyphs">22</text>
<text x="240.5" y="838.8" font-size="12" fill="#131722" stroke="#131722" stroke-width="0.2" text-anchor="middle" textLength="12.6" lengthAdjust="spacingAndGlyphs">23</text>
<text x="295.5" y="838.8" font-size="12" fill="#131722" stroke="#131722" stroke-width="0.2" text-anchor="middle" textLength="12.6" lengthAdjust="spacingAndGlyphs">24</text>
<text x="350.5" y="838.8" font-size="12" fill="#131722" stroke="#131722" stroke-width="0.2" text-anchor="middle" textLength="12.6" lengthAdjust="spacingAndGlyphs">25</text>
<text x="404.5" y="838.8" font-size="12" fill="#131722" stroke="#131722" stroke-width="0.2" text-anchor="middle" textLength="12.6" lengthAdjust="spacingAndGlyphs">26</text>
<text x="459.5" y="838.8" font-size="12" fill="#131722" stroke="#131722" stroke-width="0.2" text-anchor="middle" textLength="12.6" lengthAdjust="spacingAndGlyphs">27</text>
<text x="514.5" y="838.8" font-size="12" fill="#131722" stroke="#131722" stroke-width="0.2" text-anchor="middle" textLength="12.6" lengthAdjust="spacingAndGlyphs">28</text>
<text x="569.5" y="838.8" font-size="12" fill="#131722" stroke="#131722" stroke-width="0.2" text-anchor="middle" textLength="12.6" lengthAdjust="spacingAndGlyphs">29</text>
<text x="623.5" y="838.8" font-size="12" fill="#131722" stroke="#131722" stroke-width="0.2" text-anchor="middle" textLength="12.6" lengthAdjust="spacingAndGlyphs">30</text>
<text x="678.5" y="838.8" font-size="12" fill="#131722" stroke="#131722" stroke-width="0.2" text-anchor="middle" textLength="12.6" lengthAdjust="spacingAndGlyphs">31</text>
<text x="733.5" y="838.8" font-size="12" fill="#131722" text-anchor="middle" font-weight="bold" textLength="18.2" lengthAdjust="spacingAndGlyphs">Kas</text>
<text x="787.5" y="838.8" font-size="12" fill="#131722" stroke="#131722" stroke-width="0.2" text-anchor="middle">2</text>
<text x="842.5" y="838.8" font-size="12" fill="#131722" stroke="#131722" stroke-width="0.2" text-anchor="middle">3</text>
<text x="897.5" y="838.8" font-size="12" fill="#131722" stroke="#131722" stroke-width="0.2" text-anchor="middle">4</text>
<text x="951.5" y="838.8" font-size="12" fill="#131722" stroke="#131722" stroke-width="0.2" text-anchor="middle">5</text>
<text x="1006.5" y="838.8" font-size="12" fill="#131722" stroke="#131722" stroke-width="0.2" text-anchor="middle">6</text>
<text x="1061.5" y="838.8" font-size="12" fill="#131722" stroke="#131722" stroke-width="0.2" text-anchor="middle">7</text>
<text x="1116.5" y="838.8" font-size="12" fill="#131722" stroke="#131722" stroke-width="0.2" text-anchor="middle">8</text>
<text x="1170.5" y="838.8" font-size="12" fill="#131722" stroke="#131722" stroke-width="0.2" text-anchor="middle">9</text>
<text x="1225.5" y="838.8" font-size="12" fill="#131722" stroke="#131722" stroke-width="0.2" text-anchor="middle" textLength="12.6" lengthAdjust="spacingAndGlyphs">10</text>
<text x="1280.5" y="838.8" font-size="12" fill="#131722" stroke="#131722" stroke-width="0.2" text-anchor="middle" textLength="12.6" lengthAdjust="spacingAndGlyphs">11</text>
<text x="1334.5" y="838.8" font-size="12" fill="#131722" stroke="#131722" stroke-width="0.2" text-anchor="middle" textLength="12.6" lengthAdjust="spacingAndGlyphs">12</text>
<text x="1389.5" y="838.8" font-size="12" fill="#131722" stroke="#131722" stroke-width="0.2" text-anchor="middle" textLength="12.6" lengthAdjust="spacingAndGlyphs">13</text>
<text x="1444.5" y="838.8" font-size="12" fill="#131722" stroke="#131722" stroke-width="0.2" text-anchor="middle" textLength="12.6" lengthAdjust="spacingAndGlyphs">14</text>
<text x="1499.5" y="838.8" font-size="12" fill="#131722" stroke="#131722" stroke-width="0.2" text-anchor="middle" textLength="12.6" lengthAdjust="spacingAndGlyphs">15</text>
<text x="1553.5" y="838.8" font-size="12" fill="#131722" stroke="#131722" stroke-width="0.2" text-anchor="middle" textLength="12.6" lengthAdjust="spacingAndGlyphs">16</text>
<text x="1608.5" y="838.8" font-size="12" fill="#131722" stroke="#131722" stroke-width="0.2" text-anchor="middle" textLength="12.6" lengthAdjust="spacingAndGlyphs">17</text>
<text x="1663.5" y="838.8" font-size="12" fill="#131722" stroke="#131722" stroke-width="0.2" text-anchor="middle" textLength="12.6" lengthAdjust="spacingAndGlyphs">18</text>
<text x="1717.5" y="838.8" font-size="12" fill="#131722" stroke="#131722" stroke-width="0.2" text-anchor="middle" textLength="12.6" lengthAdjust="spacingAndGlyphs">19</text>
<g transform="translate(11.9 868) scale(0.843 0.817)" fill="#0f0f0f"><path d="M14 22H7V11H0V4h14v18zM28 22h-8l7.5-18h8L28 22z"/><circle cx="20" cy="8" r="4"/></g>
<text x="49.1" y="886" font-size="20.5" fill="#0f0f0f" stroke="#0f0f0f" stroke-width="0.2" textLength="120.7" lengthAdjust="spacingAndGlyphs" font-weight="bold">TradingView</text>
</svg></body></html>
